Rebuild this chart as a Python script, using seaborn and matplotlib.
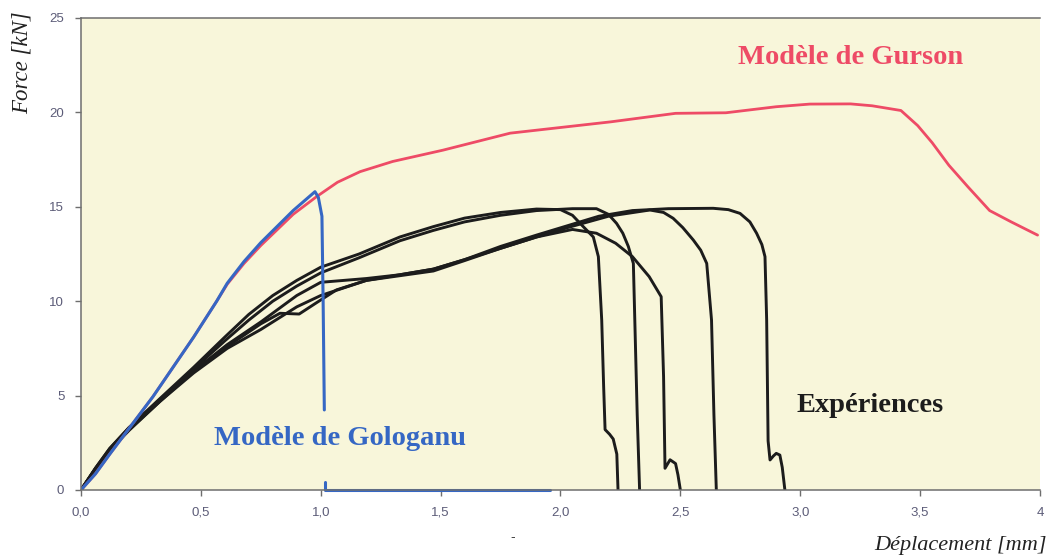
import numpy as np
import pandas as pd
import matplotlib
matplotlib.use("Agg")
import matplotlib.pyplot as plt
import seaborn as sns

# ---------------- data ----------------
gurson_x = [0, 0.06, 0.12, 0.3, 0.47, 0.566, 0.61, 0.68, 0.75, 0.885, 0.983, 1.07, 1.164, 1.3,
            1.51, 1.65, 1.79, 2.0, 2.21, 2.48, 2.69, 2.9, 3.04, 3.21, 3.3, 3.42, 3.49, 3.55,
            3.62, 3.7, 3.79, 3.88, 3.99]
gurson_y = [0, 0.85, 1.9, 4.94, 8.1, 10.0, 10.9, 12.0, 12.95, 14.6, 15.54, 16.3, 16.86, 17.4,
            18.0, 18.45, 18.9, 19.2, 19.5, 19.95, 19.98, 20.3, 20.44, 20.45, 20.35, 20.1, 19.3,
            18.4, 17.2, 16.05, 14.8, 14.2, 13.5]

gologanu_x = [0, 0.06, 0.12, 0.3, 0.47, 0.566, 0.61, 0.68, 0.75, 0.885, 0.976, 0.99, 1.005,
              1.01, 1.015]
gologanu_y = [0, 0.85, 1.9, 4.94, 8.1, 10.0, 10.95, 12.1, 13.1, 14.8, 15.8, 15.5, 14.5,
              10.0, 4.24]
gologanu_tail_x = [1.018, 1.018, 1.956]
gologanu_tail_y = [0.4, 0.0, 0.0]

expA_x = [0, 0.06, 0.12, 0.2, 0.33, 0.47, 0.6, 0.7, 0.8, 0.9, 1.0, 1.16, 1.33, 1.47, 1.6,
          1.75, 1.9, 2.0, 2.05, 2.095, 2.137, 2.158, 2.172, 2.18, 2.186, 2.205, 2.22, 2.235,
          2.24]
expA_y = [0, 1.15, 2.2, 3.3, 4.85, 6.5, 8.1, 9.3, 10.3, 11.1, 11.8, 12.5, 13.4, 13.95, 14.4,
          14.7, 14.88, 14.85, 14.55, 13.95, 13.4, 12.36, 9.0, 5.5, 3.2, 2.95, 2.7, 1.9, 0]

expB_x = [0, 0.06, 0.12, 0.2, 0.33, 0.47, 0.6, 0.7, 0.8, 0.9, 1.0, 1.16, 1.33, 1.47, 1.6,
          1.75, 1.9, 2.05, 2.15, 2.2, 2.234, 2.26, 2.283, 2.304, 2.31, 2.32, 2.33]
expB_y = [0, 1.15, 2.2, 3.3, 4.8, 6.4, 7.9, 9.0, 10.0, 10.8, 11.5, 12.3, 13.2, 13.75, 14.2,
          14.55, 14.8, 14.9, 14.9, 14.6, 14.12, 13.6, 12.9, 12.0, 9.0, 4.0, 0]

expC_x = [0, 0.06, 0.12, 0.2, 0.33, 0.47, 0.61, 0.75, 0.9, 1.0, 1.19, 1.33, 1.47, 1.6, 1.75,
          1.9, 2.05, 2.15, 2.23, 2.30, 2.37, 2.42, 2.43, 2.436, 2.457, 2.48, 2.49, 2.50]
expC_y = [0, 1.1, 2.1, 3.2, 4.7, 6.3, 7.7, 8.9, 10.3, 11.0, 11.2, 11.4, 11.7, 12.2, 12.8,
          13.4, 13.8, 13.6, 13.07, 12.36, 11.3, 10.24, 6.0, 1.15, 1.6, 1.4, 0.8, 0]

expD_x = [0, 0.06, 0.12, 0.2, 0.33, 0.47, 0.61, 0.75, 0.83, 0.91, 0.98, 1.066, 1.19, 1.33,
          1.47, 1.6, 1.75, 1.9, 2.03, 2.2, 2.373, 2.43, 2.47, 2.51, 2.554, 2.585, 2.61, 2.63,
          2.64, 2.65]
expD_y = [0, 1.1, 2.1, 3.2, 4.75, 6.3, 7.6, 8.8, 9.36, 9.32, 9.9, 10.6, 11.1, 11.35,
          11.6, 12.15, 12.8, 13.4, 13.9, 14.5, 14.83, 14.7, 14.39, 13.9, 13.24, 12.7, 12.0, 9.0,
          4.0, 0]

expE_x = [0, 0.06, 0.12, 0.2, 0.33, 0.47, 0.61, 0.75, 0.9, 1.0, 1.19, 1.33, 1.47, 1.6, 1.75,
          1.9, 2.03, 2.16, 2.3, 2.45, 2.637, 2.7, 2.749, 2.79, 2.818, 2.84, 2.853, 2.86, 2.866,
          2.874, 2.888, 2.90, 2.915, 2.925, 2.936]
expE_y = [0, 1.1, 2.1, 3.15, 4.7, 6.2, 7.5, 8.5, 9.7, 10.3, 11.1, 11.4, 11.7, 12.2, 12.9,
          13.5, 14.0, 14.5, 14.8, 14.9, 14.92, 14.85, 14.65, 14.2, 13.6, 13.0, 12.36, 9.0, 2.6,
          1.59, 1.8, 1.94, 1.85, 1.2, 0]

xticks = [0.0, 0.5, 1.0, 1.5, 2.0, 2.5, 3.0, 3.5, 4.0]
xtick_labels = ["0,0", "0,5", "1,0", "1,5", "2,0", "2,5", "3,0", "3,5", "4"]
yticks = [0, 5, 10, 15, 20, 25]
ytick_labels = ["0", "5", "10", "15", "20", "25"]

label_gurson = "Modèle de Gurson"
label_gologanu = "Modèle de Gologanu"
label_exp = "Expériences"
xlabel = "Déplacement [mm]"
ylabel = "Force [kN]"

# ---------------- style ----------------
sns.set_theme(style="white")
plt.rcParams["font.family"] = ["Liberation Sans", "DejaVu Sans"]

RED = "#EE4B66"
BLUE = "#3567C4"
BLACK = "#1c1c1c"
BG = "#F8F6DA"
TICKC = "#5C5C78"
SPINE = "#6E6E6E"

fig = plt.figure(figsize=(10.49, 5.57), dpi=100)
ax = fig.add_axes([0.0772, 0.1203, 0.9142, 0.8474])
ax.set_facecolor(BG)

exp_sets = [(expA_x, expA_y), (expB_x, expB_y), (expC_x, expC_y),
            (expD_x, expD_y), (expE_x, expE_y)]
for ex, ey in exp_sets:
    sns.lineplot(x=ex, y=ey, sort=False, estimator=None, color=BLACK, lw=2.1, ax=ax)

sns.lineplot(x=gurson_x, y=gurson_y, sort=False, estimator=None, color=RED, lw=2.0, ax=ax)
sns.lineplot(x=gologanu_x, y=gologanu_y, sort=False, estimator=None, color=BLUE, lw=2.2, ax=ax)
sns.lineplot(x=gologanu_tail_x, y=gologanu_tail_y, sort=False, estimator=None, color=BLUE,
             lw=2.2, ax=ax, clip_on=False)

ax.set_xlim(0, 4)
ax.set_ylim(0, 25)
ax.set_xticks(xticks)
ax.set_xticklabels(xtick_labels)
ax.set_yticks(yticks)
ax.set_yticklabels(ytick_labels)
ax.tick_params(axis="both", which="major", direction="out", length=4, width=1,
               color=SPINE, labelcolor=TICKC, labelsize=9.5)
ax.tick_params(axis="x", pad=8)
ax.tick_params(axis="y", pad=8)
ax.tick_params(bottom=True, left=True)

for s in ["left", "bottom", "top"]:
    ax.spines[s].set_visible(True)
    ax.spines[s].set_color(SPINE)
    ax.spines[s].set_linewidth(1.1)
ax.spines["right"].set_visible(False)
ax.set_xlabel("")
ax.set_ylabel("")

serif = ["Liberation Serif", "DejaVu Serif"]
ax.text(3.21, 22.9, label_gurson, color=RED, fontsize=20.5, fontweight="bold",
        family=serif, ha="center", va="center")
ax.text(1.08, 2.75, label_gologanu, color=BLUE, fontsize=20.5, fontweight="bold",
        family=serif, ha="center", va="center")
ax.text(3.29, 4.45, label_exp, color=BLACK, fontsize=20.5, fontweight="bold",
        family=serif, ha="center", va="center")

fig.text(0.021, 0.887, ylabel, rotation=90, fontsize=16.5, fontstyle="italic",
         family=serif, ha="center", va="center", color="#222222")
fig.text(0.916, 0.0215, xlabel, fontsize=16, fontstyle="italic",
         family=serif, ha="center", va="center", color="#222222")
fig.text(0.489, 0.035, "-", fontsize=10, ha="center", va="center", color="#444444")

fig.savefig("out.png", dpi=100, facecolor="white")
